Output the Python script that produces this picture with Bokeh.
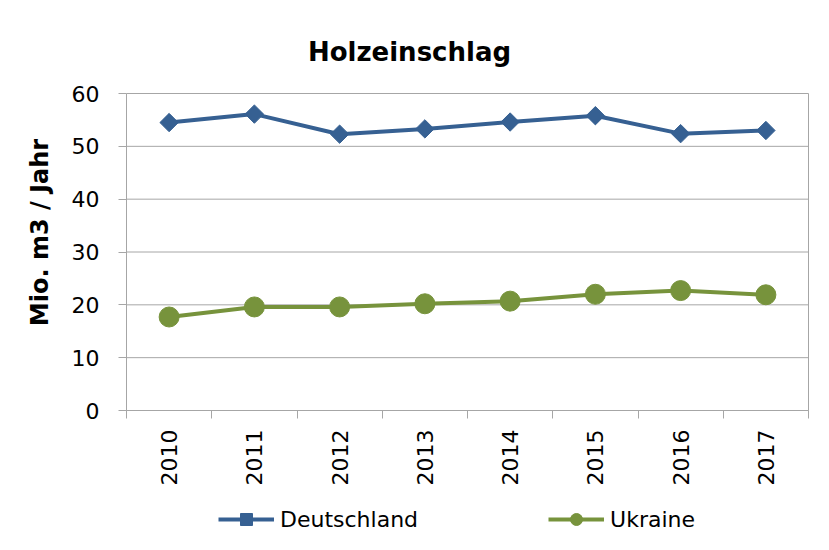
import math
from bokeh.plotting import figure
from bokeh.models import (Range1d, FixedTicker, Legend, LegendItem, Label,
                          ColumnDataSource)
from bokeh.embed import file_html
from bokeh.resources import INLINE

# ---- data ----
years = ["2010", "2011", "2012", "2013", "2014", "2015", "2016", "2017"]
deutschland = [54.5, 56.1, 52.3, 53.3, 54.6, 55.8, 52.4, 53.0]
ukraine = [17.7, 19.6, 19.6, 20.2, 20.7, 22.0, 22.7, 21.9]
y_ticks = [0, 10, 20, 30, 40, 50, 60]
title_text = "Holzeinschlag"
y_label = "Mio. m3 / Jahr"

BLUE = "#366092"
GREEN = "#77933C"
GRID = "#A6A6A6"
FONT = "DejaVu Sans"

W, H = 813, 534
# plot-area placement on the canvas (pixels)
AREA_L, AREA_R, AREA_T, AREA_B = 126, 808, 93, 410

n = len(years)
y_lo, y_hi = y_ticks[0], y_ticks[-1]
sx = (AREA_R - AREA_L) / n
sy = (AREA_B - AREA_T) / (y_hi - y_lo)
x_range = Range1d(-AREA_L / sx, n + (W - AREA_R) / sx)
y_range = Range1d(y_lo - (H - AREA_B) / sy, y_hi + AREA_T / sy)

xpos = [i + 0.5 for i in range(n)]
src = ColumnDataSource(dict(x=xpos, de=deutschland, ua=ukraine))

p = figure(width=W, height=H, output_backend="svg", toolbar_location=None,
           x_range=x_range, y_range=y_range,
           min_border_left=0, min_border_right=0, min_border_top=0,
           min_border_bottom=0)
p.outline_line_color = None
p.background_fill_color = "white"
p.border_fill_color = "white"
p.xgrid.visible = False
p.ygrid.visible = False

# plot area: gridlines and right border
p.segment(x0=0, x1=n, y0=y_ticks, y1=y_ticks, line_color=GRID, line_width=1)
p.segment(x0=n, x1=n, y0=y_lo, y1=y_hi, line_color=GRID, line_width=1)

# axes
p.xaxis.fixed_location = y_lo
p.xaxis.bounds = (0, n)
p.xaxis.ticker = FixedTicker(ticks=xpos, minor_ticks=list(range(n + 1)))
p.xaxis.major_label_overrides = {x: y for x, y in zip(xpos, years)}
p.xaxis.major_label_orientation = math.pi / 2
p.xaxis.major_tick_out = 0
p.xaxis.major_tick_in = 0
p.xaxis.minor_tick_out = 8
p.xaxis.minor_tick_in = 0
p.xaxis.minor_tick_line_color = GRID
p.xaxis.axis_line_color = GRID
p.xaxis.major_label_standoff = 11

p.yaxis.fixed_location = 0
p.yaxis.bounds = (y_lo, y_hi)
p.yaxis.ticker = FixedTicker(ticks=y_ticks, minor_ticks=[])
p.yaxis.major_tick_out = 8
p.yaxis.major_tick_in = 0
p.yaxis.major_tick_line_color = GRID
p.yaxis.axis_line_color = GRID
p.yaxis.major_label_standoff = 19

for ax in (p.xaxis, p.yaxis):
    ax.major_label_text_font = FONT
    ax.major_label_text_font_size = "22px"
    ax.major_label_text_color = "#000000"

# series
l1 = p.line("x", "de", source=src, line_color=BLUE, line_width=4, line_join="round")
m1 = p.scatter("x", "de", source=src, marker="square", angle=math.pi / 4,
               size=13, fill_color=BLUE, line_color=BLUE)
l2 = p.line("x", "ua", source=src, line_color=GREEN, line_width=4, line_join="round")
m2 = p.scatter("x", "ua", source=src, marker="circle", size=20,
               fill_color=GREEN, line_color=GREEN)

legend = Legend(items=[LegendItem(label="Deutschland", renderers=[l1, m1]),
                       LegendItem(label="Ukraine", renderers=[l2, m2])],
                orientation="horizontal", location=(218, 0),
                glyph_width=56, glyph_height=30, label_standoff=6, spacing=130,
                padding=0, margin=0, border_line_color=None,
                background_fill_alpha=0,
                label_text_font=FONT, label_text_font_size="22px",
                label_text_color="#000000")
p.add_layout(legend, "center")

# title and y label (placed on the canvas)
p.add_layout(Label(x=(409 - AREA_L) / sx, y=y_lo + (AREA_B - 51) / sy,
                   text=title_text, text_font=FONT, text_font_size="26px",
                   text_font_style="bold", text_align="center",
                   text_baseline="alphabetic", text_color="#000000"))
p.add_layout(Label(x=(39 - AREA_L) / sx, y=y_lo + (AREA_B - 232) / sy,
                   text=y_label, text_font=FONT, text_font_size="24px",
                   text_font_style="bold", angle=math.pi / 2,
                   text_align="center", text_baseline="middle",
                   text_color="#000000"))

open("out.html", "w").write(file_html(p, INLINE))
